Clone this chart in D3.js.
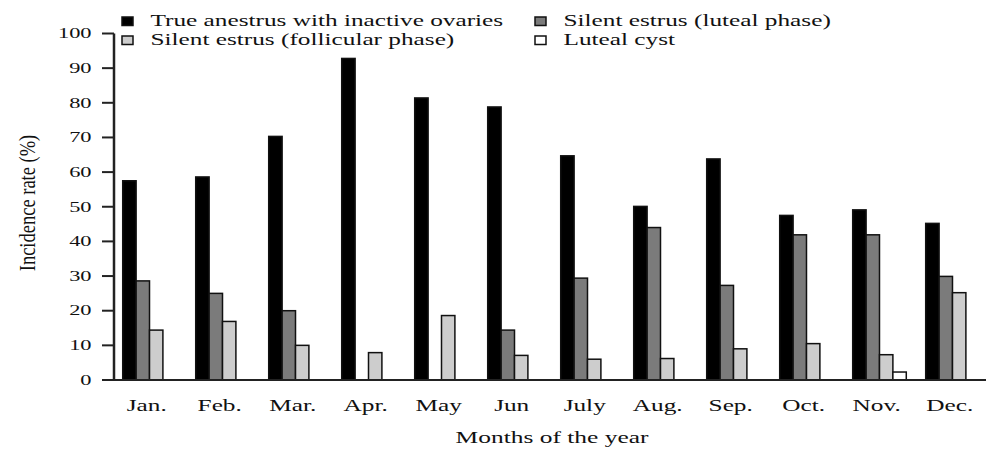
<!DOCTYPE html>
<html>
<head>
<meta charset="utf-8">
<script src="https://cdn.jsdelivr.net/npm/d3@7"></script>
<style>
  html, body { margin: 0; padding: 0; background: #fff; }
  svg { display: block; }
  text { font-family: "Liberation Serif", "Times New Roman", serif; fill: #111; }
</style>
</head>
<body>
<svg id="chart" width="988" height="450"></svg>
<script>
const months = ["Jan.", "Feb.", "Mar.", "Apr.", "May", "Jun", "July", "Aug.", "Sep.", "Oct.", "Nov.", "Dec."];
const seriesNames = ["True anestrus with inactive ovaries", "Silent estrus (luteal phase)", "Silent estrus (follicular phase)", "Luteal cyst"];
const trueAnestrus = [57.5, 58.6, 70.3, 92.8, 81.4, 78.8, 64.7, 50.1, 63.8, 47.5, 49.1, 45.2];
const silentLuteal = [28.6, 25.0, 20.0, 0, 0, 14.4, 29.4, 44.0, 27.3, 41.9, 41.9, 29.9];
const silentFollicular = [14.4, 16.9, 10.0, 7.9, 18.6, 7.1, 6.0, 6.2, 9.0, 10.5, 7.3, 25.2];
const lutealCyst = [0, 0, 0, 0, 0, 0, 0, 0, 0, 0, 2.3, 0];
const yTicks = [0, 10, 20, 30, 40, 50, 60, 70, 80, 90, 100];
const colors = ["#000000", "#7b7b7b", "#cdcdcd", "#ffffff"];

const seriesValues = [trueAnestrus, silentLuteal, silentFollicular, lutealCyst];

const svg = d3.select("#chart");
const axisX = 114, axisRight = 986;

const y = d3.scaleLinear().domain([0, 100]).range([380, 33.5]);
const x0 = d3.scaleBand().domain(months).range([103.3, 998.7]).paddingInner(0.266).paddingOuter(0.266);
const x1 = d3.scaleBand().domain(seriesNames).range([0, x0.bandwidth()]);

// bars
const groups = svg.append("g").selectAll("g")
  .data(months)
  .join("g")
  .attr("transform", d => `translate(${x0(d)},0)`);

groups.selectAll("rect")
  .data((m, i) => seriesNames.map((s, k) => ({ s, k, v: seriesValues[k][i] })).filter(d => d.v > 0))
  .join("rect")
  .attr("x", d => x1(d.s))
  .attr("y", d => y(d.v))
  .attr("width", x1.bandwidth())
  .attr("height", d => y(0) - y(d.v))
  .attr("fill", d => colors[d.k])
  .attr("stroke", "#111")
  .attr("stroke-width", 1.5);

// y axis
const yAxisG = svg.append("g");
yAxisG.append("line")
  .attr("x1", axisX).attr("x2", axisX)
  .attr("y1", y(100)).attr("y2", y(0))
  .attr("stroke", "#222").attr("stroke-width", 2.5);
yAxisG.selectAll("line.tick")
  .data(yTicks)
  .join("line")
  .attr("class", "tick")
  .attr("x1", axisX - 12).attr("x2", axisX)
  .attr("y1", d => y(d)).attr("y2", d => y(d))
  .attr("stroke", "#222").attr("stroke-width", 2);
yAxisG.selectAll("text")
  .data(yTicks)
  .join("text")
  .attr("transform", d => `translate(91.5,${y(d)}) scale(1.6,1)`)
  .attr("text-anchor", "end")
  .attr("dy", "0.34em")
  .attr("font-size", 14)
  .text(d => d);

// x axis line
svg.append("line")
  .attr("x1", axisX).attr("x2", axisRight)
  .attr("y1", y(0)).attr("y2", y(0))
  .attr("stroke", "#222").attr("stroke-width", 2);

// month labels
svg.append("g").selectAll("text")
  .data(months)
  .join("text")
  .attr("transform", d => `translate(${x0(d) + 24},411) scale(1.58,1)`)
  .attr("text-anchor", "middle")
  .attr("font-size", 16)
  .text(d => d);

// axis titles
svg.append("text")
  .attr("transform", "translate(552,443) scale(1.59,1)")
  .attr("text-anchor", "middle")
  .attr("font-size", 16)
  .text("Months of the year");

svg.append("text")
  .attr("transform", "translate(35,203) rotate(-90) scale(1,1.2)")
  .attr("text-anchor", "middle")
  .attr("font-size", 18.5)
  .text("Incidence rate (%)");

// legend
const legendItems = [
  { name: seriesNames[0], k: 0, x: 122, y: 26 },
  { name: seriesNames[1], k: 1, x: 535, y: 26 },
  { name: seriesNames[2], k: 2, x: 122, y: 45 },
  { name: seriesNames[3], k: 3, x: 535, y: 45 }
];
const lg = svg.append("g").selectAll("g")
  .data(legendItems)
  .join("g")
  .attr("transform", d => `translate(${d.x},${d.y})`);
lg.append("rect")
  .attr("x", 0).attr("y", -9)
  .attr("width", 11).attr("height", 8.5)
  .attr("fill", d => colors[d.k])
  .attr("stroke", "#111").attr("stroke-width", 1.5);
lg.append("text")
  .attr("transform", "translate(28.5,0) scale(1.58,1)")
  .attr("font-size", 16)
  .text(d => d.name);
</script>
</body>
</html>
